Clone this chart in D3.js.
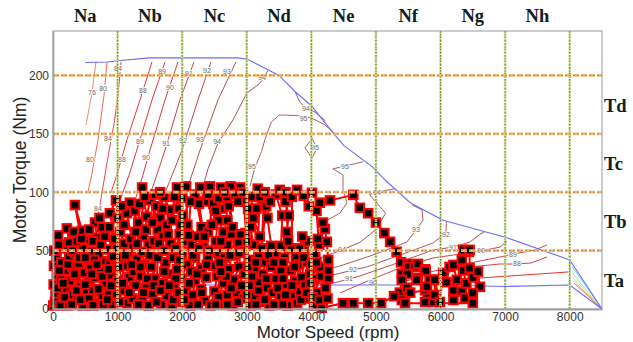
<!DOCTYPE html>
<html><head><meta charset="utf-8">
<script src="https://cdn.jsdelivr.net/npm/d3@7"></script>
<style>body{margin:0;background:#fff}svg{display:block}</style>
</head><body>
<svg id="c" width="633" height="342"></svg>
<script>
// ---------- data ----------
const speedTicks = [0,1000,2000,3000,4000,5000,6000,7000,8000];
const torqueTicks = [0,50,100,150,200];
const gridSpeeds = [1000,2000,3000,4000,5000,6000,7000,8000];
const gridTorques = [50,100,150,200];
const speedZoneLabels = ["Na","Nb","Nc","Nd","Ne","Nf","Ng","Nh"];
const speedZoneCenters = [500,1500,2500,3500,4500,5500,6500,7500];
const torqueZoneLabels = ["Ta","Tb","Tc","Td"];
const torqueZoneCenters = [25,75,125,175];

const envelopeUpper = [[500,211],[850,211.5],[1000,212.5],[1500,215],[2860,215],[3000,214],[3500,200],[3750,186],[4000,174],[4350,150],[4500,140],[4950,121.5],[5150,110],[5530,91],[6040,76],[7030,61],[8000,42],[8500,0]];
const envelopeLower = [[500,20.5],[2000,20.5],[4300,20.5],[5000,20.5],[6000,20.5],[7000,19.3],[8000,20.5],[8500,0]];

const eff76 = [[666,211.5],[604,185],[511,157.5]];
const eff80 = [[836,211.5],[790,183],[697,145],[600,115],[540,100]];
const eff84 = [[1053,211.5],[1010,185],[950,160],[851,130],[760,100],[700,80]];
const eff88 = [[1533,211.5],[1347,179],[1146,145],[990,115],[900,100]];
const eff89 = [[1734,211.5],[1533,179],[1347,145],[1180,115],[1050,95]];
const eff90 = [[1935,211.5],[1734,179],[1502,136],[1347,106],[1250,90]];
const eff91 = [[2183,211.5],[1966,179],[1734,136],[1579,110],[1480,95]];
const eff92 = [[2446,211.5],[2245,179],[1997,136],[1811,110],[1700,95]];
const eff93 = [[2833,211.5],[2555,179],[2276,136],[2121,110],[2000,95]];
const eff94a = [[3330,204],[3200,193],[3004,185],[2787,162],[2555,142],[2400,120],[2300,100]];
const eff95a = [[4366,150],[4200,158],[4000,163.5],[3800,165.5],[3600,166],[3500,166],[3380,160],[3280,145],[3230,135],[3120,120],[3050,105]];
const eff95b = [[4010,146],[3902,138],[4010,129],[4087,138],[4010,146]];
const eff94b = [[3747,186],[3824,177],[3917,172],[4056,168.7],[4220,161]];
const eff95c = [[4800,126],[4335,120],[4490,114.7],[4490,102],[4552,91],[4443,82],[4242,76],[4103,66]];
const eff94c = [[5295,103],[5016,100],[4900,98],[5150,82],[5000,68],[4750,57],[4474,50.5],[4134,43.7],[3902,40.2]];
const eff93b = [[5560,89],[5713,85],[5729,76],[5620,67.6],[5481,57.4],[4954,46.2],[4490,37.7],[4134,31.7]];
const eff92b = [[6090,75],[6084,65],[5883,56.5],[5372,46.2],[4861,36],[4645,33.4],[4335,29.1],[4056,25.7]];
const eff91b = [[6680,66],[6611,64],[6456,57.4],[6193,53],[5883,50.5],[5372,40.2],[4753,28.3],[4582,25.7],[4289,21.4]];
const eff90b = [[7030,58],[6920,53],[6626,49.7],[5883,43.7],[5372,35.1],[4908,24.8],[4443,13.7]];
const eff89b = [[7648,54.8],[7462,50.5],[7122,47],[6920,44.5],[6456,39.4],[5837,31.7],[5372,24.8]];
const eff88b = [[7648,44.5],[7400,39.4],[7184,38.5],[6920,38.5],[6456,36],[5837,28.3],[5372,23]];
const eff87b = [[7973,31.7],[7000,28],[6611,26.5],[6000,24],[5500,22]];

const contourLines = [eff76,eff80,eff84,eff88,eff89,eff90,eff91,eff92,eff93,eff94a,eff95a,eff95b,eff94b,eff95c,eff94c,eff93b,eff92b,eff91b,eff90b,eff89b,eff88b,eff87b];
const contourColors = ["#f08a70","#f06a5a","#e84848","#e03a3a","#dc3a3a","#d43c3c","#c84444","#c04a4a","#b45050","#a85454","#b06060","#b06060","#a85858","#b06060","#a85454","#b05858","#b85454","#c44c4c","#cc4848","#d44444","#d84040","#ee3030"];

const labelText = ["76","80","80","84","84","84","88","88","89","89","90","90","91","91","92","92","93","93","94","94","95","95","95","94","95","94","94","93","92","92","91","91","90","90","89","88"];
const labelSpeed = [604,775,573,1006,851,697,1393,1068,1688,1347,1811,1440,2105,1750,2384,2013,2694,2276,3236,2540,3080,3880,4056,3917,4521,5016,4474,5620,6084,4645,6193,4582,6626,4954,7122,7184];
const labelTorque = [185,189,128,206,146,86,187,128,203,143,190,130,202,142,204,144,203,145,198,143,122,163,138,172,122,100,50.5,67.6,63.5,33.4,53,25.7,49.7,22.3,47,38.5];

const cornerFan = [[8030,37],[8040,31],[8050,27],[8060,24],[8070,22]];
const cornerColors = ["#7fd8ff","#9fe8b0","#e8e070","#f0b060","#f08a60"];

const cyclePoints = [
[5,3],[40,12],[10,21],[60,29],[15,37],[55,44],[130,40],[190,33],[120,25],[200,17],[140,8],[230,3],[280,12],[260,24],[300,36],[250,45],[180,52],[80,63],
[215,69],[250,57],[340,48],[400,39],[350,28],[420,19],[380,8],[460,3],[520,14],[560,25],[480,31],[540,42],[460,52],[340,89],[450,67],[530,59],[600,49],[580,35],
[650,27],[620,16],[680,5],[760,10],[820,22],[730,32],[800,41],[700,47],[680,61],[650,74],[760,70],[835,51],[880,40],[900,29],[860,14],[920,4],[980,12],[1000,24],
[960,36],[1040,44],[990,52],[880,82],[975,93],[1040,66],[1100,56],[1160,48],[1120,37],[1180,27],[1100,16],[1150,5],[1230,9],[1280,20],[1250,32],[1300,43],[1240,54],[1145,82],
[1190,91],[1320,74],[1380,104],[1450,79],[1500,93],[1400,62],[1480,55],[1380,49],[1420,38],[1360,28],[1440,18],[1380,7],[1480,3],[1540,13],[1580,26],[1520,36],[1560,58],[1620,68],
[1700,62],[1660,78],[1600,88],[1720,96],[1800,85],[1760,72],[1820,56],[1740,40],[1800,30],[1700,22],[1760,11],[1680,4],[1840,3],[1880,18],[1920,34],[1860,44],[1900,52],[1960,64],
[1920,104],[2000,95],[2060,105],[2080,72],[2050,58],[2000,47],[2070,38],[1990,26],[2060,16],[1990,6],[2120,3],[2160,12],[2200,24],[2140,32],[2200,44],[2150,55],[2240,62],[2300,70],
[2200,98],[2280,104],[2350,92],[2430,105],[2480,90],[2400,66],[2330,53],[2400,43],[2300,35],[2370,27],[2290,17],[2350,7],[2440,3],[2500,15],[2540,28],[2480,37],[2560,48],[2520,58],
[2600,104],[2690,96],[2620,86],[2560,76],[2640,66],[2700,55],[2650,44],[2720,34],[2640,22],[2700,12],[2620,4],[2780,3],[2840,14],[2800,25],[2880,36],[2820,46],[2870,57],[2760,64],
[2750,105],[2820,98],[2900,104],[2960,92],[3020,86],[2980,65],[2950,50],[3030,42],[2960,30],[3040,20],[2950,9],[3060,3],[3130,11],[3190,23],[3120,33],[3180,45],[3100,55],[3060,70],
[3080,96],[3170,103],[3250,94],[3150,86],[3300,88],[3230,52],[3290,40],[3250,30],[3310,18],[3230,6],[3350,3],[3400,14],[3450,26],[3380,36],[3440,48],[3530,54],[3550,80],[3450,98],
[3510,102],[3600,92],[3650,80],[3620,66],[3580,44],[3530,33],[3600,21],[3520,10],[3630,3],[3700,11],[3750,24],[3680,33],[3760,44],[3690,52],[3800,38],[3850,27],[3820,15],[3780,5],
[3950,58],[3880,50],[3920,40],[3980,30],[3900,20],[3960,9],[4040,3],[4100,14],[4060,26],[4130,36],[4050,47],[4120,55],
[20,50],[90,55],[100,33],[70,18],[30,6],[110,3],[180,10],[160,22],[230,38],[300,50],[370,58],[320,66],[290,4],[360,16],[330,30],[410,44],[420,8],
[500,44],[440,60],[560,68],[620,58],[640,42],[600,30],[500,21],[560,9],[620,3],[700,17],[760,28],[680,38],[740,55],[800,62],[720,78],[780,4],
[840,8],[900,20],[860,34],[930,45],[950,60],[870,70],[1000,78],[1060,88],[1100,72],[1020,36],[1080,22],[1030,6],[1120,46],[1200,60],[1180,14],[1220,38],
[1280,66],[1260,84],[1340,90],[1420,96],[1300,56],[1350,36],[1320,4],[1400,14],[1460,26],[1500,46],[1440,68],[1540,74],[1580,98],[1560,20],[1600,6],[1620,44],
[1660,100],[1700,86],[1640,56],[1720,50],[1780,64],[1840,76],[1880,96],[1940,86],[1980,72],[1860,8],[1940,14],[1900,26],[1960,42],[1800,20],[1720,32],[1660,16],
[2010,80],[2130,92],[2100,63],[2170,46],[2260,52],[2230,30],[2110,22],[2030,8],[2240,4],[2300,14],[2380,38],[2420,50],[2340,62],[2260,90],[2400,98],[2460,72],
[2520,84],[2560,95],[2660,100],[2700,76],[2600,58],[2580,40],[2680,28],[2560,10],[2520,4],[2600,32],[2740,46],[2760,18],[2700,4],[2780,70],[2720,88],
[2860,92],[2940,100],[3000,58],[2900,64],[2880,48],[2920,20],[2860,6],[3000,12],[3080,28],[3020,36],[3140,40],[3200,62],[3100,78],[3200,96],[3140,4],[3180,16],
[3280,100],[3360,92],[3320,78],[3380,54],[3340,46],[3300,26],[3280,8],[3420,4],[3480,18],[3420,40],[3560,40],[3560,26],[3600,12],[3560,4],[3640,58],[3600,100],
[3700,96],[3700,20],[3740,36],[3820,52],[3860,62],[3880,44],[3840,8],[3920,14],[3980,22],[4000,38],[4080,40],[4100,60],[4150,28],[4020,10],[4180,5],[4080,84],
[3960,88],[3780,102],[3880,97],
[4010,99.5],[4130,91],[4290,93],[4650,97.7],[4750,86.6],[4880,82],[5000,74],[5130,65],[5220,57.5],[5320,49],[5390,40],
[5400,30],[5490,38.6],[5500,36],[5600,36],[5650,38.6],[5760,34],[5770,32.6],[5650,26.6],[5630,25],[5490,30],[5400,25],[5370,14],[5400,7.7],[5480,18],[5530,14],[5760,16],[5830,25],[5790,19],[5800,9.4],[5880,6],[5760,6],[5910,12],[5910,25],[5990,6],
[6040,31],[6090,23],[6140,36],[6200,37.7],[6250,25],[6200,16],[6200,7.7],[6330,15],[6380,9.4],[6400,22],[6350,33],[6330,42],[6440,49],[6350,50.6],[6450,50.6],[6450,35],[6500,27],[6580,32],[6610,19],[6500,13.7],[6500,5],
[5450,5],[5280,11],[5080,5],[4880,5],[4650,5],[4490,5],[4160,1],[4130,7.7],[4250,9],[4220,18],[4260,26.6],[4260,33],[4260,42],[4240,57.5],[4210,68.5],[4180,74]
];

// ---------- drawing ----------
const svg = d3.select("#c");
const x = d3.scaleLinear().domain([0,8500]).range([53,602]);
const y = d3.scaleLinear().domain([0,238]).range([309,31]);
const line = d3.line().x(d=>x(d[0])).y(d=>y(d[1]));

svg.append("g").selectAll("path").data(contourLines).join("path")
  .attr("d", line).attr("fill","none")
  .attr("stroke",(d,i)=>contourColors[i]).attr("stroke-width",1);

svg.append("g").selectAll("path").data(cornerFan).join("path")
  .attr("d", d=>line([d,[8500,0]])).attr("fill","none")
  .attr("stroke",(d,i)=>cornerColors[i]).attr("stroke-width",1);

svg.append("g").selectAll("text").data(labelText).join("text")
  .attr("x",(d,i)=>x(labelSpeed[i])).attr("y",(d,i)=>y(labelTorque[i]))
  .attr("dy","0.35em").attr("text-anchor","middle")
  .attr("font-family","Liberation Sans, Arial, sans-serif").attr("font-size",7)
  .attr("fill","#666").attr("stroke","#fff").attr("stroke-width",2)
  .attr("paint-order","stroke").text(d=>d);

svg.append("path").attr("d",line(envelopeUpper)).attr("fill","none").attr("stroke","#6b6bff").attr("stroke-width",1.1);
svg.append("path").attr("d",line(envelopeLower)).attr("fill","none").attr("stroke","#6b6bff").attr("stroke-width",1.1);
svg.append("path").attr("d",line([[8000,42],[8000,20.5]])).attr("fill","none").attr("stroke","#6b6bff").attr("stroke-width",1);

svg.append("path").attr("d",line(cyclePoints)).attr("fill","none").attr("stroke","#ff0000").attr("stroke-width",2);
svg.append("g").selectAll("rect").data(cyclePoints).join("rect")
  .attr("x",d=>x(d[0])-4.3).attr("y",d=>y(d[1])-4.3)
  .attr("width",8.6).attr("height",8.6)
  .attr("fill","#000").attr("stroke","#ff0000").attr("stroke-width",2);

const grid = svg.append("g");
grid.selectAll("line.vb").data(gridSpeeds).join("line").attr("class","vb")
  .attr("x1",d=>x(d)).attr("x2",d=>x(d)).attr("y1",y(238)).attr("y2",y(0))
  .attr("stroke","#c4de7a").attr("stroke-width",2.6).attr("stroke-dasharray","3,1");
grid.selectAll("line.vd").data(gridSpeeds).join("line").attr("class","vd")
  .attr("x1",d=>x(d)).attr("x2",d=>x(d)).attr("y1",y(238)).attr("y2",y(0))
  .attr("stroke","#5a7a10").attr("stroke-width",0.9).attr("stroke-dasharray","1.5,1.5");
grid.selectAll("line.hb").data(gridTorques).join("line").attr("class","hb")
  .attr("x1",x(0)).attr("x2",x(8500)).attr("y1",d=>y(d)).attr("y2",d=>y(d))
  .attr("stroke","#f6b870").attr("stroke-width",2.8).attr("stroke-dasharray","6,2");
grid.selectAll("line.hd").data(gridTorques).join("line").attr("class","hd")
  .attr("x1",x(0)).attr("x2",x(8500)).attr("y1",d=>y(d)).attr("y2",d=>y(d))
  .attr("stroke","#a87030").attr("stroke-width",0.7).attr("stroke-dasharray","2,2");

svg.append("rect").attr("x",x(0)).attr("y",y(238)).attr("width",x(8500)-x(0)).attr("height",y(0)-y(238))
  .attr("fill","none").attr("stroke","#9a9a9a").attr("stroke-width",1);

const font = "Liberation Sans, Arial, sans-serif";
const fmt = d3.format("d");
const ax = svg.append("g").attr("transform",`translate(0,${y(0)})`)
  .call(d3.axisBottom(x).tickValues(speedTicks).tickFormat(fmt).tickSize(0).tickPadding(3));
const ay = svg.append("g").attr("transform",`translate(${x(0)},0)`)
  .call(d3.axisLeft(y).tickValues(torqueTicks).tickFormat(fmt).tickSize(0).tickPadding(4));
[ax,ay].forEach(g=>{
  g.selectAll("text").attr("font-family",font).attr("font-size",12).attr("fill","#333");
  g.select(".domain").attr("stroke","#a0a0a0").attr("stroke-width",1.8);
});

svg.append("text").attr("x",328).attr("y",338).attr("text-anchor","middle")
  .attr("font-family",font).attr("font-size",17).attr("fill","#222").text("Motor Speed (rpm)");
svg.append("text").attr("transform","translate(26,170) rotate(-90)").attr("text-anchor","middle")
  .attr("font-family",font).attr("font-size",17.5).attr("fill","#222").text("Motor Torque (Nm)");

svg.append("g").selectAll("text").data(speedZoneLabels).join("text")
  .attr("x",(d,i)=>x(speedZoneCenters[i])).attr("y",22).attr("text-anchor","middle")
  .attr("font-family","Liberation Serif, Times New Roman, serif").attr("font-weight","bold")
  .attr("font-size",18.5).attr("fill","#102020").text(d=>d);
svg.append("g").selectAll("text").data(torqueZoneLabels).join("text")
  .attr("x",604).attr("y",(d,i)=>y(torqueZoneCenters[i])+7).attr("text-anchor","start")
  .attr("font-family","Liberation Serif, Times New Roman, serif").attr("font-weight","bold")
  .attr("font-size",18.5).attr("fill","#102020").text(d=>d);
</script>
</body></html>
